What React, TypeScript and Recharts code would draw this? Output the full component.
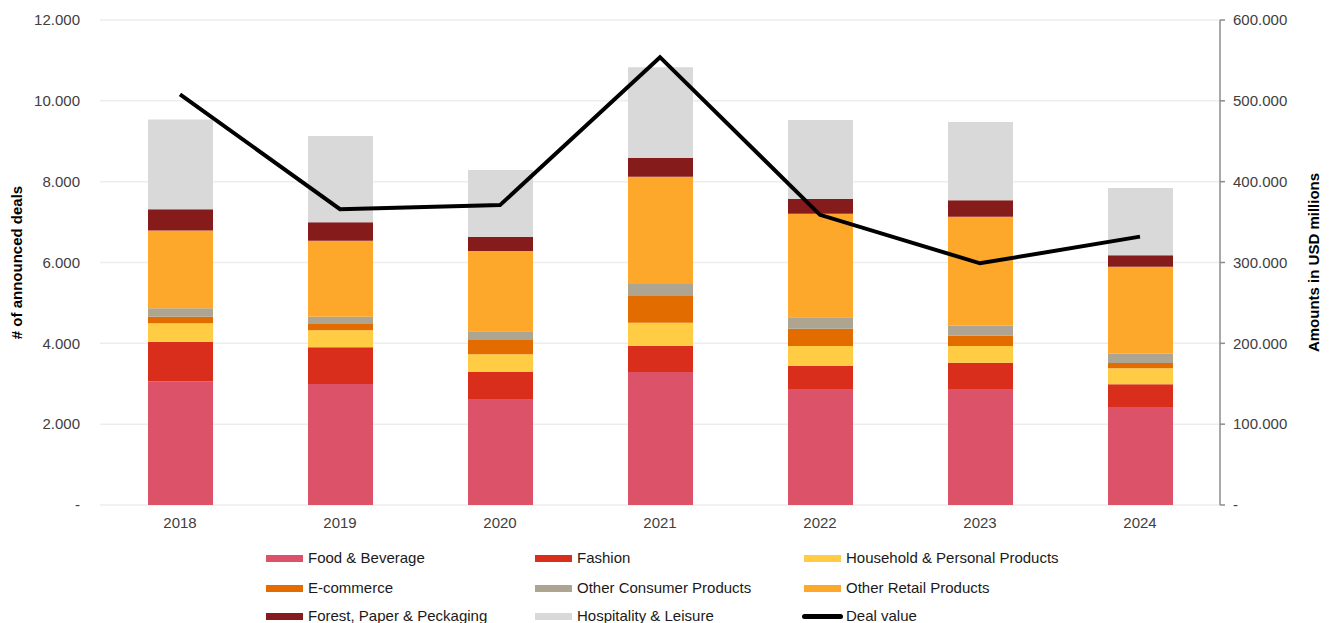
import React from "react";
import {
  ComposedChart,
  Bar,
  Line,
  XAxis,
  YAxis,
  CartesianGrid,
  Legend,
  Label,
} from "recharts";

const years = ["2018", "2019", "2020", "2021", "2022", "2023", "2024"];

const foodBeverage = [3060, 2994, 2606, 3290, 2853, 2853, 2425];
const fashion = [980, 907, 684, 652, 594, 668, 560];
const household = [460, 421, 438, 569, 487, 413, 396];
const eCommerce = [155, 156, 354, 660, 428, 255, 132];
const otherConsumer = [215, 181, 215, 297, 281, 248, 231];
const otherRetail = [1920, 1881, 1987, 2655, 2564, 2696, 2152];
const forestPaper = [530, 454, 346, 462, 363, 405, 281];
const hospitality = [2220, 2135, 1658, 2243, 1955, 1937, 1666];

const dealValue = [508000, 366000, 371000, 554000, 359000, 299000, 332000];

const leftTicks = [0, 2000, 4000, 6000, 8000, 10000, 12000];
const rightTicks = [0, 100000, 200000, 300000, 400000, 500000, 600000];

const series = [
  { key: "food", name: "Food & Beverage", color: "#DC5369", values: foodBeverage },
  { key: "fashion", name: "Fashion", color: "#D92E1C", values: fashion },
  { key: "household", name: "Household & Personal Products", color: "#FFCC44", values: household },
  { key: "ecom", name: "E-commerce", color: "#E36C00", values: eCommerce },
  { key: "otherConsumer", name: "Other Consumer Products", color: "#ADA591", values: otherConsumer },
  { key: "otherRetail", name: "Other Retail Products", color: "#FDA72B", values: otherRetail },
  { key: "forest", name: "Forest, Paper & Peckaging", color: "#851B1B", values: forestPaper },
  { key: "hospitality", name: "Hospitality & Leisure", color: "#D9D9D9", values: hospitality },
];

const chartData = years.map((year, i) => {
  const row: Record<string, string | number> = { year, deal: dealValue[i] };
  series.forEach((s) => {
    row[s.key] = s.values[i];
  });
  return row;
});

// tick positions at category edges (0..n)
const edgeTicks = years.map((_, i) => i).concat(years.length);

const FONT = '"Liberation Sans", Arial, sans-serif';
const AXIS_GREY = "#8C8C8C";

const fmt = (v: number) => (v === 0 ? "-" : v.toLocaleString("de-DE"));

function AxisTitle({ viewBox, value, cx }: any) {
  const cy = viewBox.y + viewBox.height / 2;
  return (
    <text
      x={cx}
      y={cy}
      transform={`rotate(-90, ${cx}, ${cy})`}
      textAnchor="middle"
      dominantBaseline="central"
      fontFamily={FONT}
      fontSize={15}
      fontWeight="bold"
      fill="#000"
    >
      {value}
    </text>
  );
}

function LegendBox() {
  const items = [
    ...series.map((s) => ({ name: s.name, color: s.color, line: false })),
    { name: "Deal value", color: "#000", line: true },
  ];
  const colX = [266, 535, 804];
  const rowY = [15, 45, 73];
  return (
    <div style={{ position: "relative", width: 1332, height: 80, fontFamily: FONT, fontSize: 15 }}>
      {items.map((it, i) => {
        const x = colX[i % 3];
        const y = rowY[Math.floor(i / 3)];
        return (
          <div key={it.name}>
            <div
              style={{
                position: "absolute",
                left: it.line ? x - 2 : x,
                top: it.line ? y - 2.5 : y - 3.5,
                width: it.line ? 41 : 37,
                height: it.line ? 5 : 7,
                borderRadius: it.line ? 3 : 0,
                background: it.color,
              }}
            />
            <div
              style={{
                position: "absolute",
                left: x + 42,
                top: y - 9,
                lineHeight: "18px",
                color: "#1a1a1a",
                whiteSpace: "nowrap",
              }}
            >
              {it.name}
            </div>
          </div>
        );
      })}
    </div>
  );
}

export default function App() {
  return (
    <div style={{ position: "absolute", left: 0, top: 0, width: 1332, height: 623, background: "#fff" }}>
      <ComposedChart
        width={1332}
        height={623}
        data={chartData}
        margin={{ top: 20, right: 0, bottom: 0, left: 0 }}
        barCategoryGap={0}
      >
        <CartesianGrid
          vertical={false}
          stroke="#EDEDED"
          strokeWidth={1.5}
          xAxisId="cat"
          yAxisId="left"
        />
        <XAxis
          xAxisId="edge"
          type="number"
          domain={[0, years.length]}
          ticks={edgeTicks}
          tick={false}
          tickSize={5}
          height={0}
          axisLine={{ stroke: AXIS_GREY, strokeWidth: 1.5 }}
          tickLine={{ stroke: AXIS_GREY, strokeWidth: 1.5 }}
        />
        <XAxis
          xAxisId="cat"
          dataKey="year"
          height={38}
          axisLine={false}
          tickLine={false}
          tickSize={0}
          tickMargin={12}
          tick={{ fill: "#404040", fontSize: 15, fontFamily: FONT }}
        />
        <YAxis
          yAxisId="left"
          width={100}
          domain={[0, 12000]}
          ticks={leftTicks}
          tickFormatter={fmt}
          axisLine={false}
          tickLine={false}
          tickSize={0}
          tickMargin={20}
          tick={{ fill: "#404040", fontSize: 15, fontFamily: FONT }}
        >
          <Label content={(p: any) => <AxisTitle {...p} value="# of announced deals" cx={16} />} />
        </YAxis>
        <YAxis
          yAxisId="right"
          orientation="right"
          width={112}
          domain={[0, 600000]}
          ticks={rightTicks}
          tickFormatter={fmt}
          axisLine={{ stroke: AXIS_GREY, strokeWidth: 1.5 }}
          tickLine={{ stroke: AXIS_GREY, strokeWidth: 1.5 }}
          tickSize={5}
          tickMargin={8}
          tick={{ fill: "#404040", fontSize: 15, fontFamily: FONT }}
        >
          <Label content={(p: any) => <AxisTitle {...p} value="Amounts in USD millions" cx={1313} />} />
        </YAxis>
        {series.map((s) => (
          <Bar
            key={s.key}
            dataKey={s.key}
            name={s.name}
            stackId="deals"
            xAxisId="cat"
            yAxisId="left"
            fill={s.color}
            barSize={65}
            isAnimationActive={false}
          />
        ))}
        <Line
          dataKey="deal"
          name="Deal value"
          xAxisId="cat"
          yAxisId="right"
          type="linear"
          stroke="#000"
          strokeWidth={4}
          dot={false}
          activeDot={false}
          isAnimationActive={false}
        />
        <Legend
          verticalAlign="bottom"
          height={80}
          wrapperStyle={{ left: 0, width: 1332, height: 80 }}
          content={() => <LegendBox />}
        />
      </ComposedChart>
    </div>
  );
}
